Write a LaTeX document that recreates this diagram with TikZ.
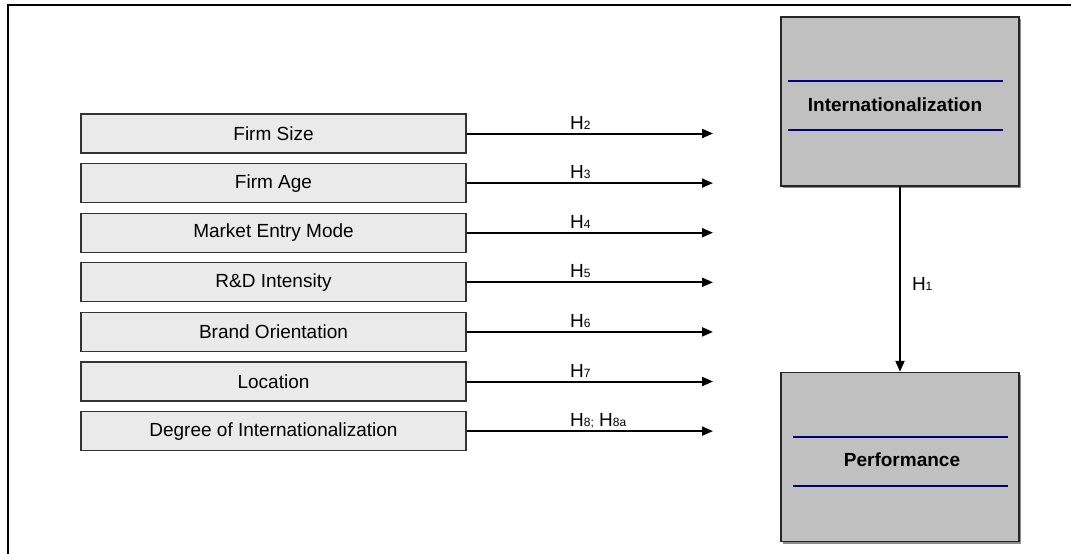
\documentclass[tikz,border=0pt]{standalone}
\usepackage{fontspec}
\setmainfont{Liberation Sans}
\usetikzlibrary{arrows.meta,shadows}

\definecolor{factorfill}{HTML}{EAEAEA}
\definecolor{constructfill}{HTML}{C0C0C0}
\definecolor{rulenavy}{HTML}{000080}

\newcommand{\hyp}[1]{H{\fontsize{12}{12}\selectfont #1}}

\tikzset{
  factor/.style={draw=black!80, line width=1.2pt, fill=factorfill, minimum width=385pt,
    minimum height=39pt, inner sep=0pt, font=\fontsize{19}{22}\selectfont},
  construct/.style={draw=black!85, line width=1.4pt, fill=constructfill, minimum width=238pt,
    minimum height=169pt, inner sep=0pt,
    drop shadow={shadow xshift=2pt, shadow yshift=-2pt, fill=black!45, opacity=1}},
  link/.style={line width=2pt, -{Triangle[length=11pt,width=9pt]}},
  hlabel/.style={anchor=base west, inner sep=0pt, font=\fontsize{19}{22}\selectfont},
  navyrule/.style={draw=rulenavy, line width=2pt}
}

\begin{document}
\begin{tikzpicture}[x=1pt, y=-1pt]
  \useasboundingbox (0,0) rectangle (1071,554);
  % outer frame
  \draw[line width=2.5pt] (8,560) -- (8,5) -- (1080,5);

  % factors on the left
  \node[factor] (size)     at (273.5,133.5) {Firm Size};
  \node[factor] (age)      at (273.5,183.1) {Firm Age};
  \node[factor] (entry)    at (273.5,232.7) {Market Entry Mode};
  \node[factor] (rnd)      at (273.5,282.3) {R\&D Intensity};
  \node[factor] (brand)    at (273.5,331.9) {Brand Orientation};
  \node[factor] (location) at (273.5,381.5) {Location};
  \node[factor] (degree)   at (273.5,431.1) {Degree of Internationalization};

  % free arrow ends
  \coordinate (endsize)     at (713,133.5);
  \coordinate (endage)      at (713,183.1);
  \coordinate (endentry)    at (713,232.7);
  \coordinate (endrnd)      at (713,282.3);
  \coordinate (endbrand)    at (713,331.9);
  \coordinate (endlocation) at (713,381.5);
  \coordinate (enddegree)   at (713,431.1);

  \draw[link] (size.east)     -- (endsize);
  \draw[link] (age.east)      -- (endage);
  \draw[link] (entry.east)    -- (endentry);
  \draw[link] (rnd.east)      -- (endrnd);
  \draw[link] (brand.east)    -- (endbrand);
  \draw[link] (location.east) -- (endlocation);
  \draw[link] (degree.east)   -- (enddegree);

  \node[hlabel] (h2) at (570,129.0) {\hyp{2}};
  \node[hlabel] (h3) at (570,178.6) {\hyp{3}};
  \node[hlabel] (h4) at (570,228.2) {\hyp{4}};
  \node[hlabel] (h5) at (570,277.8) {\hyp{5}};
  \node[hlabel] (h6) at (570,327.4) {\hyp{6}};
  \node[hlabel] (h7) at (570,377.0) {\hyp{7}};
  \node[hlabel] (h8) at (570,426.6) {\hyp{8;} \hyp{8a}};

  % constructs on the right
  \node[construct] (intl) at (900,101.5) {};
  \node[construct] (perf) at (900,457) {};
  \draw[navyrule] (788,81) -- (1003,81);
  \draw[navyrule] (788,130) -- (1003,130);
  \draw[navyrule] (793,437) -- (1008,437);
  \draw[navyrule] (793,486) -- (1008,486);
  \node[font=\fontsize{19}{22}\selectfont\bfseries] (intltext) at (895,105) {Internationalization};
  \node[font=\fontsize{19}{22}\selectfont\bfseries] (perftext) at (902,460) {Performance};

  \draw[link] (intl.south) -- (perf.north) node[hlabel] at (911,290) {\hyp{1}};
\end{tikzpicture}
\end{document}
